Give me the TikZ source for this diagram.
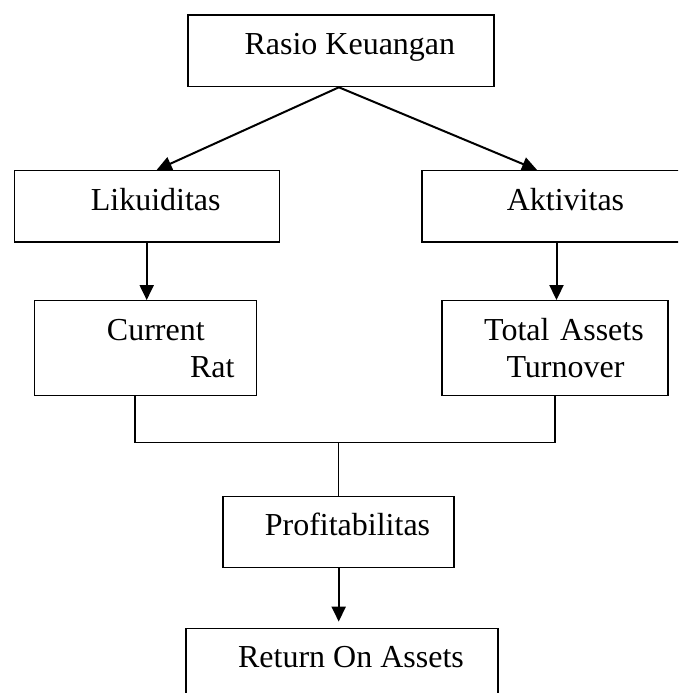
\documentclass[tikz,border=0pt]{standalone}
\usepackage{fontspec}
\setmainfont{Liberation Serif}
\usetikzlibrary{arrows.meta,positioning}
\newcommand{\pad}{\hspace*{18pt}}
\tikzset{
  box/.style={
    rectangle,
    draw=black,
    line width=1.3pt,
    align=center,
    inner xsep=0pt,
    minimum height=71.5pt,
    text height=22pt,
    text depth=14.6pt,
    font=\fontsize{32}{36.5}\selectfont
  },
  twobox/.style={
    box,
    minimum height=95pt,
    text depth=37.4pt
  },
  arrow/.style={
    -{Triangle[length=15pt,width=14pt]},
    line width=2pt,
    draw=black
  },
  link/.style={
    line width=1.3pt,
    draw=black
  }
}

\begin{document}
\begin{tikzpicture}[x=1pt,y=-1pt]
  \useasboundingbox (0,0) rectangle (678,693);
  \clip (0,0) rectangle (678,693);

  \node[box, minimum width=306pt] (rasio) at (340.9,50.9) {\pad Rasio Keuangan};
  \node[box, minimum width=265pt] (likuid) at (146.7,206.3) {\pad Likuiditas};
  \node[box, minimum width=269pt] (aktiv) at (556.5,206.3) {\pad Aktivitas};
  \node[twobox, text width=222.4pt, align=left] (current) at (145.5,348.2)
    {\hspace*{72.7pt}Current\\\hspace*{155.7pt}Rat};
  \node[twobox, text width=226pt] (tat) at (555,348.2) {\pad Total Assets\\\pad\hspace*{3pt}Turnover};
  \node[box, minimum width=231pt] (profit) at (338.5,532) {\pad Profitabilitas};
  \node[box, minimum width=312pt] (roa) at (342,664) {\pad Return On Assets};
  \coordinate (join) at (338.7,442.7);

  \draw[arrow] ([xshift=-2pt]rasio.south) -- ([xshift=10pt]likuid.north);
  \draw[arrow] ([xshift=-2pt]rasio.south) -- ([xshift=-19.5pt]aktiv.north);
  \draw[arrow] (likuid.south) -- (likuid.south |- current.north);
  \draw[arrow] (aktiv.south) -- (aktiv.south |- tat.north);
  \draw[link] ([xshift=-10.5pt]current.south) |- (join) -| (tat.south);
  \draw[link] (join) -- (join |- profit.north);
  \draw[arrow, shorten >=6pt] (join |- profit.south) -- (join |- roa.north);
\end{tikzpicture}
\end{document}
